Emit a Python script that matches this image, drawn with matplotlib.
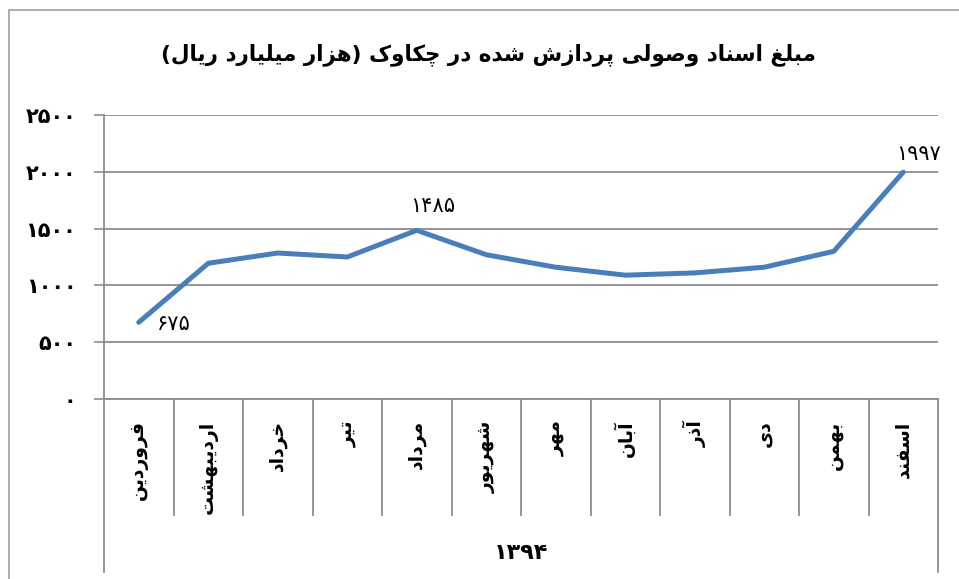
import matplotlib
matplotlib.use("Agg")
import matplotlib.pyplot as plt
from matplotlib.patches import Rectangle

plt.rcParams["font.family"] = ["DejaVu Sans"]

# data
months = ["فروردین", "اردیبهشت", "خرداد", "تیر", "مرداد", "شهریور",
          "مهر", "آبان", "آذر", "دی", "بهمن", "اسفند"]
values = [675, 1195, 1285, 1250, 1485, 1270, 1160, 1090, 1110, 1160, 1300, 1997]
labelled = [0, 4, 11]
y_ticks = [0, 500, 1000, 1500, 2000, 2500]
year = "1394"
title = "مبلغ اسناد وصولی پردازش شده در چکاوک (هزار میلیارد ریال)"

# simple persian shaping (matplotlib has no complex text layout)
DUAL = {"ب": 0xFE8F, "پ": 0xFB56, "ت": 0xFE95, "ث": 0xFE99, "ج": 0xFE9D,
        "چ": 0xFB7A, "ح": 0xFEA1, "خ": 0xFEA5, "س": 0xFEB1, "ش": 0xFEB5,
        "ص": 0xFEB9, "ض": 0xFEBD, "ط": 0xFEC1, "ظ": 0xFEC5, "ع": 0xFEC9,
        "غ": 0xFECD, "ف": 0xFED1, "ق": 0xFED5, "ک": 0xFB8E, "گ": 0xFB92,
        "ل": 0xFEDD, "م": 0xFEE1, "ن": 0xFEE5, "ه": 0xFEE9, "ی": 0xFBFC}
RIGHT = {"ا": 0xFE8D, "آ": 0xFE81, "د": 0xFEA9, "ذ": 0xFEAB, "ر": 0xFEAD,
         "ز": 0xFEAF, "ژ": 0xFB8A, "و": 0xFEED}


def shape(text):
    out = []
    for i, ch in enumerate(text):
        prev = text[i - 1] if i > 0 else ""
        nxt = text[i + 1] if i + 1 < len(text) else ""
        join_prev = prev in DUAL
        if ch in DUAL:
            join_next = nxt in DUAL or nxt in RIGHT
            k = 3 if (join_prev and join_next) else 2 if join_next else 1 if join_prev else 0
            out.append(chr(DUAL[ch] + k))
        elif ch in RIGHT:
            out.append(chr(RIGHT[ch] + (1 if join_prev else 0)))
        else:
            out.append(ch)
    mirror = {"(": ")", ")": "("}
    return "".join(mirror.get(c, c) for c in reversed(out))


def fa_digits(v):
    return str(v).translate(str.maketrans("0123456789", "۰۱۲۳۴۵۶۷۸۹"))


W, H = 959, 579
fig = plt.figure(figsize=(W / 100, H / 100), dpi=100)
fig.patches.append(Rectangle((9 / W, -0.1), 1.2, 1.1 - 10 / H, transform=fig.transFigure,
                             fill=False, edgecolor="#a0a0a0", linewidth=1.2))

left, right, top, bottom = 104, 938, 115, 399
ax = fig.add_axes([left / W, 1 - bottom / H, (right - left) / W, (bottom - top) / H])

grid_c = "#8c8c8c"
x = list(range(len(months)))
ax.plot(x, values, color="#4a7ebb", linewidth=3.6, solid_capstyle="round", zorder=3)

ax.set_xlim(-0.5, len(months) - 0.5)
ax.set_ylim(y_ticks[0], y_ticks[-1])
ax.set_yticks(y_ticks)
ax.set_yticklabels([fa_digits(v) for v in y_ticks], fontsize=15, fontweight="bold")
ax.tick_params(axis="y", length=7, color=grid_c, width=1.2, pad=13)
ax.yaxis.grid(True, color=grid_c, linewidth=1.3)
ax.set_axisbelow(True)
for s in ["top", "right"]:
    ax.spines[s].set_visible(False)
for s in ["left", "bottom"]:
    ax.spines[s].set_color(grid_c)
    ax.spines[s].set_linewidth(1.3)

# multi-level category axis
ax.set_xticks([])
tr = ax.get_xaxis_transform()
cat_depth = -(515 - bottom) / (bottom - top)
outer_depth = -(572 - bottom) / (bottom - top)
for b in range(len(months) + 1):
    depth = outer_depth if b in (0, len(months)) else cat_depth
    ax.plot([b - 0.5, b - 0.5], [0, depth], transform=tr, color=grid_c,
            linewidth=1.3, clip_on=False)
for i, m in enumerate(months):
    ax.text(i, -0.075, shape(m), transform=tr, rotation=90, ha="center", va="top",
            fontsize=13.5, fontweight="bold")
ax.text((len(months) - 1) / 2, -(553 - bottom) / (bottom - top), fa_digits(year),
        transform=tr, ha="center", va="center", fontsize=16, fontweight="bold")

# data labels
offsets = {0: (35, -2), 4: (16, 24), 11: (15, 18)}
for i in labelled:
    ax.annotate(fa_digits(values[i]), (i, values[i]), xytext=offsets[i],
                textcoords="offset pixels", ha="center", va="center", fontsize=15)

fig.text(488 / W, 1 - 55 / H, shape(title), ha="center", va="center",
         fontsize=15.5, fontweight="bold")

fig.savefig("out.png", dpi=100)
